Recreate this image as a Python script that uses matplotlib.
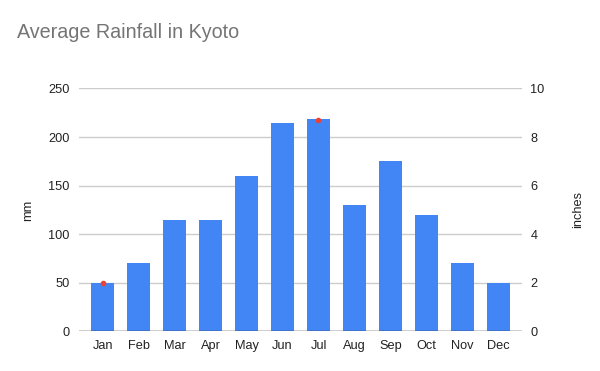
import matplotlib
matplotlib.use("Agg")
import matplotlib.pyplot as plt
import numpy as np

months = ["Jan", "Feb", "Mar", "Apr", "May", "Jun", "Jul", "Aug", "Sep", "Oct", "Nov", "Dec"]
rain_mm = [50, 70, 115, 115, 160, 215, 219, 130, 175, 120, 70, 50]
rain_in = [2.0, np.nan, np.nan, np.nan, np.nan, np.nan, 8.7, np.nan, np.nan, np.nan, np.nan, np.nan]
mm_ticks = [0, 50, 100, 150, 200, 250]
in_ticks = [0, 2, 4, 6, 8, 10]

plt.rcParams['font.family'] = ['Liberation Sans', 'DejaVu Sans']

fig = plt.figure(figsize=(6, 3.71), dpi=100)
ax = fig.add_axes([0.1317, 0.1065, 0.7383, 0.655])
x = np.arange(len(months))
ax.bar(x, rain_mm, width=0.64, color="#4285F4", zorder=2)
ax.set_xlim(-0.66, 11.66)
ax.set_ylim(0, 250)
ax.set_yticks(mm_ticks)
ax.set_xticks(x)
ax.set_xticklabels(months)
ax.grid(axis='y', color="#cccccc", linewidth=1, zorder=0)
ax.axhline(0, color="#333333", linewidth=1, zorder=3)
for s in ax.spines.values():
    s.set_visible(False)
ax.tick_params(axis='both', length=0, labelsize=9.2, colors="#222222")
ax.tick_params(axis='y', pad=7)
ax.tick_params(axis='x', pad=6)
ax.set_ylabel("mm", fontsize=9.2, color="#222222", labelpad=10)

ax2 = ax.twinx()
ax2.set_ylim(0, 10)
ax2.set_yticks(in_ticks)
for s in ax2.spines.values():
    s.set_visible(False)
ax2.tick_params(axis='y', length=0, labelsize=9.2, colors="#222222", pad=6)
ax2.plot(x, rain_in, linestyle='none', marker='o', markersize=3, color="#EA4335", zorder=4)
ax2.set_ylabel("inches", fontsize=9.2, color="#222222", labelpad=20)

fig.text(0.028, 0.913, "Average Rainfall in Kyoto", fontsize=14.2, color="#757575", va='center', ha='left')

fig.savefig("out.png", dpi=100, facecolor="white")
